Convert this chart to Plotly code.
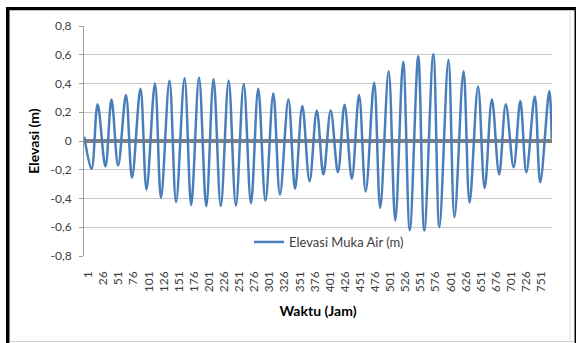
import plotly.graph_objects as go

# Hourly water-level record: turning points (hour, elevation in m)
jam = [1, 13, 23, 36, 46, 57, 70, 80, 94, 104, 118, 128, 142, 153, 167, 178,
       191, 203, 215, 227, 240, 252, 265, 277, 289, 301, 314, 325, 339, 350,
       362, 374, 386, 397, 409, 421, 432, 444, 456, 467, 481, 491, 505, 516,
       529, 540, 554, 564, 579, 589, 604, 614, 629, 639, 653, 664, 676, 688,
       699, 712, 723, 733, 747, 756, 771, 775]
elevasi = [0.03, -0.195, 0.255, -0.178, 0.288, -0.17, 0.32, -0.256, 0.364,
           -0.337, 0.40, -0.395, 0.42, -0.425, 0.436, -0.445, 0.44, -0.453,
           0.43, -0.453, 0.42, -0.449, 0.397, -0.433, 0.364, -0.414, 0.33,
           -0.372, 0.288, -0.333, 0.243, -0.279, 0.213, -0.233, 0.213, -0.217,
           0.253, -0.263, 0.32, -0.351, 0.406, -0.465, 0.485, -0.553, 0.55,
           -0.62, 0.59, -0.623, 0.603, -0.60, 0.566, -0.53, 0.485, -0.428,
           0.38, -0.328, 0.288, -0.233, 0.255, -0.182, 0.278, -0.217, 0.31,
           -0.286, 0.348, 0.016]

n_jam = 775
x_ticks = list(range(1, 752, 25))
y_ticks = [-0.8, -0.6, -0.4, -0.2, 0, 0.2, 0.4, 0.6, 0.8]
y_labels = [f"{v:.1f}".replace(".", ",") if v != 0 else "0" for v in y_ticks]

FONT = "Lato, 'Open Sans', sans-serif"
TXT = "#404040"

fig = go.Figure()
fig.add_trace(go.Scatter(
    x=jam, y=elevasi, mode="lines", name="Elevasi Muka Air (m)",
    line=dict(color="#4a7ebb", width=2.5, shape="spline", smoothing=1.0),
))

W, H = 576, 343
L, R, T, B = 84, 24, 26, 87
pw, ph = W - L - R, H - T - B


def px_x(px):
    return (px - L) / pw


def px_y(py):
    return (H - B - py) / ph


shapes = []
# outer frame: heavy black on left, top and right, faint line at the bottom
for x0, y0, x1, y1 in [(6, 7, 9.5, 343), (6, 7, 576, 10.3), (574.5, 7, 576, 343)]:
    shapes.append(dict(type="rect", xref="paper", yref="paper",
                       x0=px_x(x0), x1=px_x(x1), y0=px_y(y1), y1=px_y(y0),
                       fillcolor="black", line=dict(width=0), layer="above"))
shapes.append(dict(type="line", xref="paper", yref="paper",
                   x0=px_x(9.5), x1=px_x(574.5), y0=px_y(341.5), y1=px_y(341.5),
                   line=dict(color="#d0d0d0", width=1)))
shapes.append(dict(type="line", xref="paper", yref="paper",
                   x0=px_x(570), x1=px_x(570), y0=px_y(10.3), y1=px_y(341.5),
                   line=dict(color="#e0e0e0", width=1)))

fig.update_layout(
    width=W, height=H,
    margin=dict(l=L, r=R, t=T, b=B),
    paper_bgcolor="white", plot_bgcolor="white",
    font=dict(family=FONT, size=12, color=TXT),
    showlegend=True,
    legend=dict(x=px_x(249), y=px_y(242), xanchor="left", yanchor="middle",
                bgcolor="rgba(0,0,0,0)", itemwidth=30,
                font=dict(family=FONT, size=13, color=TXT)),
    shapes=shapes,
    xaxis=dict(
        range=[0.5, n_jam + 0.5], tickmode="array", tickvals=x_ticks,
        ticktext=[str(v) for v in x_ticks], tickangle=-90,
        showgrid=False, zeroline=False, showline=False, ticks="",
        ticklabelshift=4, ticklabelstandoff=12,
        tickfont=dict(family=FONT, size=12, color=TXT),
        title=dict(text="<b>Waktu (Jam)</b>", standoff=14,
                   font=dict(family=FONT, size=14, color="black")),
        automargin=False,
    ),
    yaxis=dict(
        range=[-0.8, 0.8], tickmode="array", tickvals=y_ticks, ticktext=y_labels,
        showgrid=True, gridcolor="#c8c8c8", gridwidth=1,
        zeroline=True, zerolinecolor="#808080", zerolinewidth=4,
        showline=True, linecolor="#a0a0a0", linewidth=1,
        ticks="outside", ticklen=4, tickcolor="#a0a0a0",
        ticklabelstandoff=5,
        tickfont=dict(family=FONT, size=12, color=TXT),
        title=dict(text="<b>Elevasi (m)</b>", standoff=7,
                   font=dict(family=FONT, size=14, color="black")),
        automargin=False,
    ),
)

fig.write_html("out.html")
